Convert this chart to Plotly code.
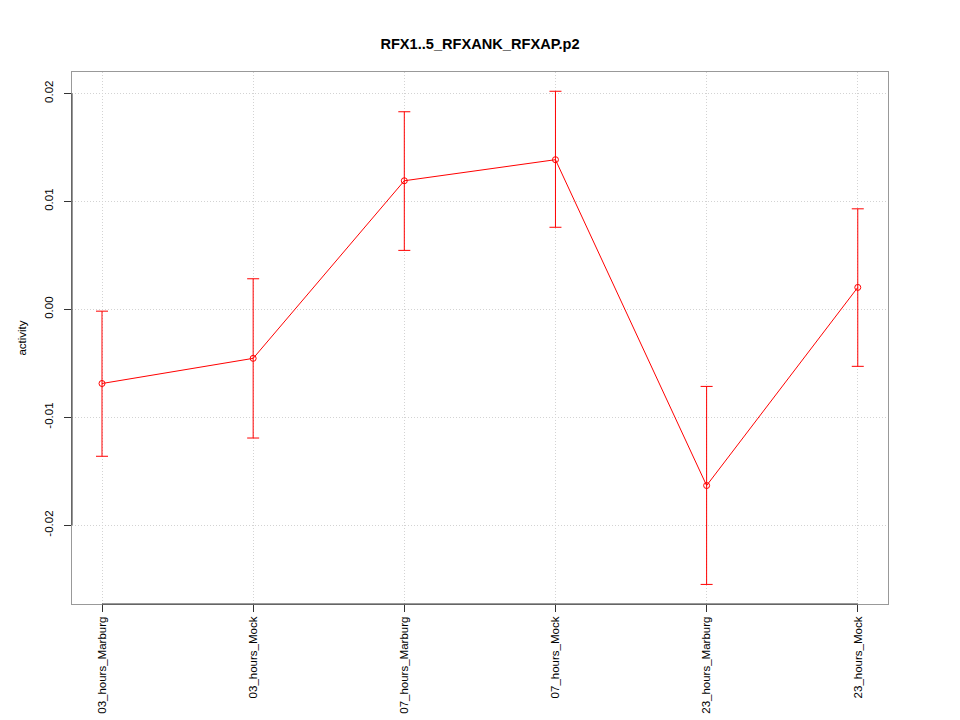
import plotly.graph_objects as go

categories = ["03_hours_Marburg", "03_hours_Mock", "07_hours_Marburg",
              "07_hours_Mock", "23_hours_Marburg", "23_hours_Mock"]
activity = [-0.00687, -0.00454, 0.01191, 0.01386, -0.01632, 0.00203]
upper = [-0.00017, 0.00283, 0.01830, 0.02020, -0.00714, 0.00931]
lower = [-0.01361, -0.01192, 0.00546, 0.00760, -0.02548, -0.00528]
ytick_vals = [-0.02, -0.01, 0.0, 0.01, 0.02]
ytick_text = ["-0.02", "-0.01", "0.00", "0.01", "0.02"]

xs = list(range(len(categories)))
err_plus = [u - a for u, a in zip(upper, activity)]
err_minus = [a - l for a, l in zip(activity, lower)]

red = "#FF0000"
fig = go.Figure()
fig.add_trace(go.Scatter(
    x=xs, y=activity, mode="lines+markers",
    line=dict(color=red, width=1),
    marker=dict(symbol="circle-open", size=6, color=red, line=dict(width=1, color=red)),
    error_y=dict(type="data", symmetric=False, array=err_plus, arrayminus=err_minus,
                 color=red, thickness=1, width=6),
    showlegend=False,
))

font = "Liberation Sans, Arial, Helvetica, sans-serif"
grid = dict(showgrid=True, gridcolor="#D3D3D3", griddash="1px,2px", gridwidth=1)

# the page body has an 8px default margin, so offsets compensate for it
fig.update_layout(
    width=960, height=720,
    margin=dict(l=64, r=80, t=64, b=124),
    paper_bgcolor="white", plot_bgcolor="white",
    font=dict(family=font, size=12, color="black"),
    title=dict(text="<b>RFX1..5_RFXANK_RFXAP.p2</b>", x=0.5 - 8 / 960, xanchor="center",
               y=1 - 36 / 720, yanchor="middle", font=dict(size=14.6, family=font)),
    xaxis=dict(range=[-0.1985, 5.2], tickmode="array", tickvals=xs, ticktext=categories,
               tickangle=-90, ticks="outside", ticklen=7, tickcolor="#333333",
               showline=True, linecolor="#999999", linewidth=1, mirror=True,
               zeroline=False, tickfont=dict(size=11.5), **grid),
    yaxis=dict(range=[-0.027294, 0.021983], tickmode="array", tickvals=ytick_vals,
               ticktext=ytick_text, tickangle=-90, ticks="outside", ticklen=7,
               tickcolor="#333333", showline=True, linecolor="#999999", linewidth=1,
               mirror=True, zeroline=False, tickfont=dict(size=11.5),
               ticklabelstandoff=6,
               title=dict(text="activity", font=dict(size=11.5), standoff=14), **grid),
)

# darker axis segments spanning first to last tick, as in R
fig.add_shape(type="line", xref="x", yref="paper", x0=xs[0], x1=xs[-1], y0=0, y1=0,
              line=dict(color="#333333", width=1))
fig.add_shape(type="line", xref="paper", yref="y", x0=0, x1=0,
              y0=ytick_vals[0], y1=ytick_vals[-1], line=dict(color="#333333", width=1))

fig.write_html("out.html")
